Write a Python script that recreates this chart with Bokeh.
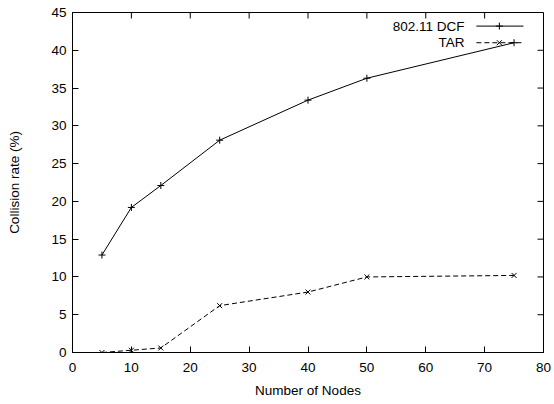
from bokeh.plotting import figure
from bokeh.models import Range1d, FixedTicker
from bokeh.core.properties import value
from bokeh.embed import file_html
from bokeh.resources import INLINE

nodes = [5, 10, 15, 25, 40, 50, 75]
dcf = [12.9, 19.2, 22.1, 28.1, 33.4, 36.3, 41.0]
tar = [0.0, 0.3, 0.6, 6.2, 8.0, 10.0, 10.2]
x_ticks = [0, 10, 20, 30, 40, 50, 60, 70, 80]
y_ticks = [0, 5, 10, 15, 20, 25, 30, 35, 40, 45]
series_names = ["802.11 DCF", "TAR"]

FONT = "Liberation Sans"
FS = "13.5px"
W, H = 554, 404
BL, BR, BT, BB = 72, 11, 12, 52
XMIN, XMAX, YMIN, YMAX = 0, 80, 0, 45
FW, FH = W - BL - BR, H - BT - BB
TICK = 6

p = figure(width=W, height=H, output_backend="svg", toolbar_location=None,
           x_range=Range1d(XMIN, XMAX), y_range=Range1d(YMIN, YMAX),
           min_border_left=BL, min_border_right=BR, min_border_top=BT, min_border_bottom=BB,
           x_axis_label="Number of Nodes", y_axis_label="Collision rate (%)")
p.grid.visible = False
p.outline_line_color = "black"
p.background_fill_color = "white"
p.border_fill_color = "white"

for ax in p.xaxis + p.yaxis:
    ax.major_tick_in = TICK
    ax.major_tick_out = 0
    ax.minor_tick_in = 0
    ax.minor_tick_out = 0
    ax.axis_line_color = "black"
    ax.major_tick_line_color = "black"
    ax.major_label_text_font = FONT
    ax.major_label_text_font_size = FS
    ax.major_label_text_color = "black"
    ax.axis_label_text_font = FONT
    ax.axis_label_text_font_size = FS
    ax.axis_label_text_font_style = "normal"
    ax.axis_label_text_color = "black"

p.xaxis.ticker = FixedTicker(ticks=x_ticks)
p.yaxis.ticker = FixedTicker(ticks=y_ticks)
p.xaxis.major_label_standoff = 10
p.xaxis.axis_label_standoff = 8
p.yaxis.major_label_standoff = 6
p.yaxis.axis_label_standoff = 26

# mirrored ticks on top and right (gnuplot style)
ty = TICK * (YMAX - YMIN) / FH
tx = TICK * (XMAX - XMIN) / FW
p.segment(x0=x_ticks, y0=[YMAX] * len(x_ticks), x1=x_ticks, y1=[YMAX - ty] * len(x_ticks),
          line_color="black", line_width=1)
p.segment(x0=[XMAX] * len(y_ticks), y0=y_ticks, x1=[XMAX - tx] * len(y_ticks), y1=y_ticks,
          line_color="black", line_width=1)

# data
p.line(nodes, dcf, line_color="black", line_width=1)
p.scatter(nodes, dcf, marker="cross", size=7, line_color="black", line_width=1)
p.line(nodes, tar, line_color="black", line_width=1, line_dash="5 3")
p.scatter(nodes, tar, marker="x", size=7, line_color="black", line_width=1)

# legend (gnuplot style: label, then sample)
lx_text = 66.6
lx0, lx1, lxm = 68.6, 76.6, 72.5
ly = [43.2, 41.0]
p.text(x=[lx_text, lx_text], y=ly, text=series_names, text_align="right",
       text_baseline="middle", text_font=value(FONT), text_font_size=FS, text_color="black")
p.line([lx0, lx1], [ly[0], ly[0]], line_color="black", line_width=1)
p.scatter([lxm], [ly[0]], marker="cross", size=7, line_color="black")
p.line([lx0, lx1], [ly[1], ly[1]], line_color="black", line_width=1, line_dash="5 3")
p.scatter([lxm], [ly[1]], marker="x", size=7, line_color="black")

open("out.html", "w").write(file_html(p, INLINE))
